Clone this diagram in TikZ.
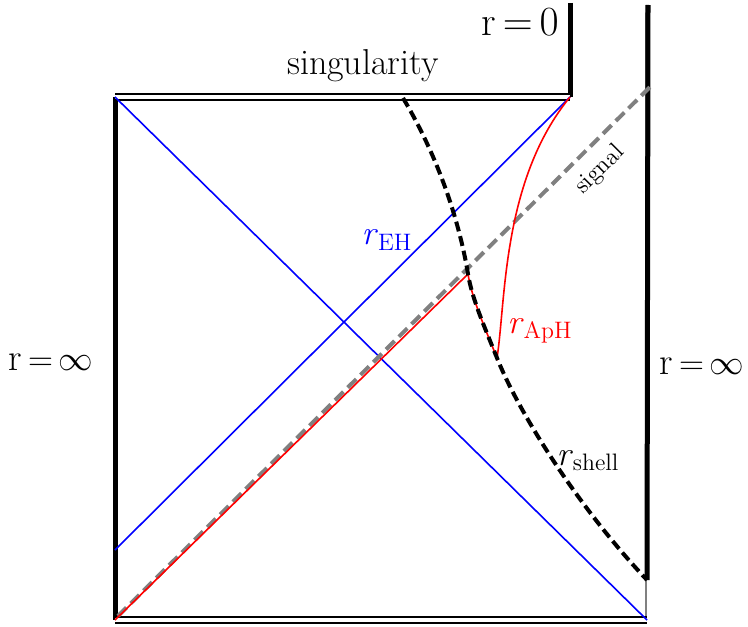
\documentclass[tikz,border=0pt]{standalone}
\usepackage{amsmath}
\usepackage{fontspec}
\usetikzlibrary{positioning}

\begin{document}
\begin{tikzpicture}[x=0.5pt, y=-0.5pt,
  rand/.style={line width=2.5pt},
  dbl/.style={double, line width=0.9pt, double distance=2.2pt},
  horizon/.style={blue, line width=0.8pt},
  aph/.style={red, line width=0.8pt},
  shellline/.style={line width=2pt, dash pattern=on 5pt off 2.5pt},
  sigline/.style={gray, line width=2pt, dash pattern=on 6pt off 3pt},
  lbl/.style={font=\fontsize{17}{19}\selectfont, inner sep=1pt},
  bnd/.style={font=\fontsize{19}{21}\selectfont, inner sep=1pt}]
\useasboundingbox (0,0) rectangle (748,626);
\coordinate (BL) at (115,620);
\coordinate (TL) at (115,97);
\coordinate (TR) at (570,97);
\coordinate (BR) at (647,620);
\coordinate (RZ) at (570,3);
\coordinate (RT) at (648,5);
\coordinate (SE) at (647,580);
\coordinate (ST) at (403,98);
\coordinate (EHL) at (115,550);
\coordinate (SB) at (118,616);
\coordinate (SG) at (651,86);
\coordinate (RK) at (468,274);
\coordinate (RB) at (497,358);
% boundaries
\draw[rand] (TL) -- (BL);
\draw[gray, line width=0.6pt] (646,5) -- (646,620);
\draw[rand] (RT) -- (SE);
\draw[rand] (RZ) -- (TR);
\draw[dbl] (TL) -- (TR);
\draw[dbl] (BL) -- (BR);
% horizons
\draw[horizon] (TL) -- (BR);
\draw[horizon] (EHL) -- (TR);
\draw[sigline] (SB) -- (SG);
\draw[aph] (BL) -- (RK) .. controls (472,299) and (485,328) .. (RB)
  .. controls (506,300) and (502,180) .. (TR);
% shell
\draw[shellline] (ST) .. controls (440,160) and (460,225) .. (RK)
  .. controls (472,299) and (485,328) .. (RB)
  .. controls (519,413) and (578,507) .. (SE);
% labels
\node[font=\fontsize{18}{20}\selectfont] (sing) at (363,66) {singularity};
\node[font=\fontsize{20.5}{22}\selectfont, inner sep=1pt] (rzero) at (520,22) {$\mathrm{r}\,{=}\,0$};
\node[bnd] (rinfL) at (51,362) {$\mathrm{r}\,{=}\,\infty$};
\node[bnd] (rinfR) at (702,366) {$\mathrm{r}\,{=}\,\infty$};
\node[lbl, blue] (rEH) at (387,240) {\textit{r}$_{\text{EH}}$};
\node[lbl, red] (rApH) at (540,331) {\textit{r}$_{\text{ApH}}$};
\node[lbl] (rshell) at (588,461) {\textit{r}$_{\text{shell}}$};
\node[font=\fontsize{12}{14}\selectfont, rotate=45] (siglbl) at (600,170) {signal};
\end{tikzpicture}
\end{document}
